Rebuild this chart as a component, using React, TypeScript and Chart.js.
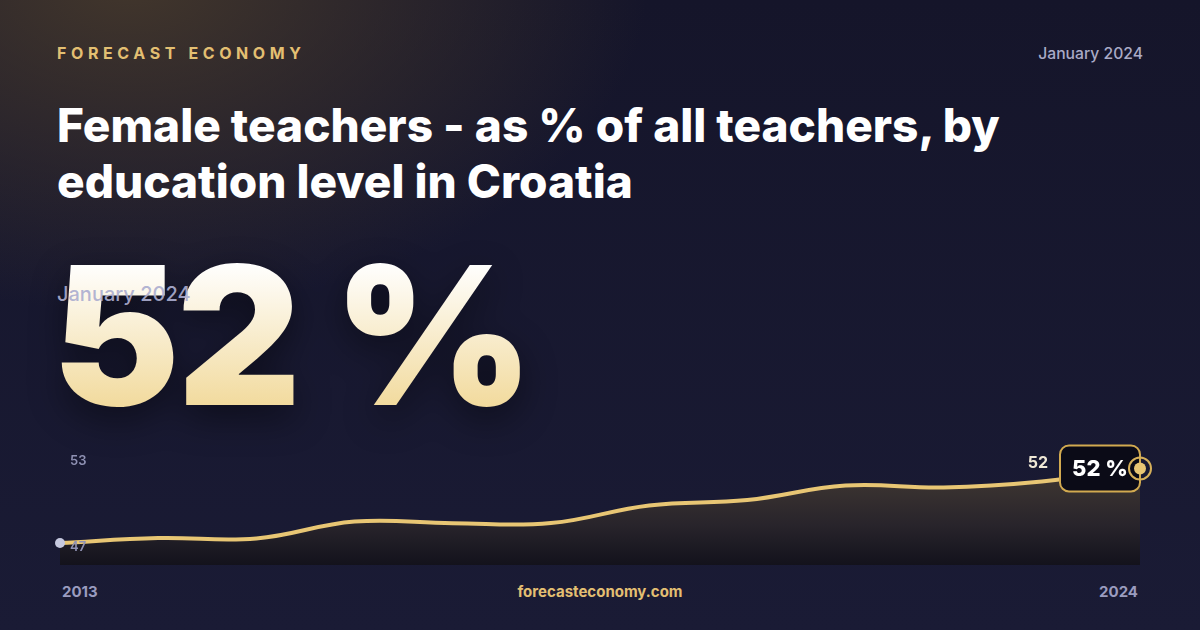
import React, { useEffect, useRef } from 'react';
import Chart from 'chart.js/auto';

const years = ['2013', '2014', '2015', '2016', '2017', '2018', '2019', '2020', '2021', '2022', '2023', '2024'];
const femaleShare = [47.28, 47.63, 47.6, 48.78, 48.66, 48.67, 49.9, 50.28, 51.29, 51.15, 51.57, 52.48];
const yTickLabels = [53, 47];
const latestLabel = 'January 2024';

const GOLD = '#e8c674';
const FONT = 'Inter, "Noto Sans", sans-serif';

const App: React.FC = () => {
    const canvasRef = useRef<HTMLCanvasElement>(null);
    const chartRef = useRef<Chart>();

    useEffect(() => {
        document.body.style.margin = '0';
        if (!canvasRef.current) return;
        const ctx = canvasRef.current.getContext('2d');
        if (!ctx) return;
        if (chartRef.current) chartRef.current.destroy();

        // labels, start dot and the end-point badge
        const overlay = {
            id: 'overlay',
            afterDatasetsDraw(chart: Chart) {
                const c = chart.ctx;
                const yScale = chart.scales.y;
                const area = chart.chartArea;
                const pts = chart.getDatasetMeta(0).data;
                const first = pts[0];
                const last = pts[pts.length - 1];
                const lastValue = femaleShare[femaleShare.length - 1];

                c.save();
                c.font = `600 13px ${FONT}`;
                c.fillStyle = '#8f91b3';
                c.textAlign = 'left';
                c.textBaseline = 'middle';
                yTickLabels.forEach(v => {
                    c.fillText(String(v), area.left + 10, yScale.getPixelForValue(v));
                });

                // start dot
                c.beginPath();
                c.arc(first.x, first.y, 5, 0, Math.PI * 2);
                c.fillStyle = '#c6c9df';
                c.fill();

                // badge
                const bw = 80, bh = 46;
                const bx = last.x - bw, by = last.y - bh / 2;
                c.beginPath();
                c.roundRect(bx, by, bw, bh, 9);
                c.fillStyle = '#0b0b17';
                c.fill();
                c.lineWidth = 2;
                c.strokeStyle = '#d2aa50';
                c.stroke();

                c.font = `800 22px ${FONT}`;
                c.fillStyle = '#ffffff';
                c.textAlign = 'center';
                c.fillText(`${lastValue.toFixed(0)} %`, bx + bw / 2, last.y + 1);

                c.font = `700 16px ${FONT}`;
                c.fillStyle = '#efe8d6';
                c.textAlign = 'right';
                c.fillText(lastValue.toFixed(0), bx - 12, last.y - 5);

                // end marker
                c.beginPath();
                c.arc(last.x, last.y, 11, 0, Math.PI * 2);
                c.lineWidth = 2;
                c.strokeStyle = '#d6b05a';
                c.stroke();
                c.beginPath();
                c.arc(last.x, last.y, 6, 0, Math.PI * 2);
                c.fillStyle = GOLD;
                c.fill();
                c.restore();
            }
        };

        chartRef.current = new Chart(ctx, {
            type: 'line',
            data: {
                labels: years,
                datasets: [{
                    data: femaleShare,
                    borderColor: GOLD,
                    borderWidth: 4,
                    tension: 0.4,
                    pointRadius: 0,
                    fill: 'start',
                    backgroundColor: (context: any) => {
                        const area = context.chart.chartArea;
                        if (!area) return 'rgba(0,0,0,0)';
                        const g = context.chart.ctx.createLinearGradient(0, area.top + 35, 0, area.bottom);
                        g.addColorStop(0, '#433a33');
                        g.addColorStop(0.6, '#28242b');
                        g.addColorStop(1, '#13121c');
                        return g;
                    }
                }]
            },
            options: {
                animation: false,
                responsive: false,
                layout: { padding: { left: 20, right: 30, top: 10, bottom: 15 } },
                scales: {
                    x: { display: false },
                    y: { display: false, min: 45.75, max: 55.16 }
                },
                plugins: {
                    legend: { display: false },
                    tooltip: { enabled: false }
                }
            },
            plugins: [overlay]
        });

        return () => {
            if (chartRef.current) {
                chartRef.current.destroy();
            }
        };
    }, []);

    const abs = (s: React.CSSProperties): React.CSSProperties => ({ position: 'absolute', margin: 0, ...s });

    return (
        <div style={{
            position: 'relative', width: 1200, height: 630, overflow: 'hidden', fontFamily: FONT,
            background: 'radial-gradient(ellipse 720px 460px at 130px -20px, rgba(74,60,44,0.85), rgba(74,60,44,0) 72%), linear-gradient(180deg, #15152a 0%, #1a1b35 100%)'
        }}>
            <div style={abs({ left: 57, top: 43, fontSize: 16, fontWeight: 700, letterSpacing: 4.6, color: '#e3bf72' })}>FORECAST ECONOMY</div>
            <div style={abs({ right: 57, top: 44, fontSize: 15.7, fontWeight: 500, color: '#a9aac6' })}>{latestLabel}</div>
            <div style={abs({ left: 57, top: 97, width: 1040, fontSize: 46, lineHeight: '56px', fontWeight: 800, color: '#ffffff', letterSpacing: 0 })}>
                Female teachers - as % of all teachers, by<br />education level in Croatia
            </div>
            <div style={abs({
                left: 52, top: 239, fontSize: 192, lineHeight: 1, fontWeight: 900, letterSpacing: -3,
                background: 'linear-gradient(180deg, #ffffff 12%, #f1d897 92%)',
                WebkitBackgroundClip: 'text', backgroundClip: 'text', color: 'transparent',
                filter: 'drop-shadow(0 12px 18px rgba(0,0,0,0.45))', whiteSpace: 'nowrap'
            })}>{`${femaleShare[femaleShare.length - 1].toFixed(0)} %`}</div>
            <div style={abs({ left: 57, top: 282, fontSize: 20, fontWeight: 500, color: 'rgba(172,174,208,0.92)' })}>{latestLabel}</div>
            <div style={abs({ left: 40, top: 420, width: 1130, height: 160 })}>
                <canvas ref={canvasRef} width={1130} height={160} style={{ width: 1130, height: 160 }}></canvas>
            </div>
            <div style={abs({ left: 62, top: 582, fontSize: 15, fontWeight: 700, color: '#9a9cbf' })}>{years[0]}</div>
            <div style={abs({ left: 0, width: 1200, textAlign: 'center', top: 582, fontSize: 15, fontWeight: 700, color: '#e3bf72' })}>forecasteconomy.com</div>
            <div style={abs({ right: 62, top: 582, fontSize: 15, fontWeight: 700, color: '#9a9cbf' })}>{years[years.length - 1]}</div>
        </div>
    );
};

export default App;
